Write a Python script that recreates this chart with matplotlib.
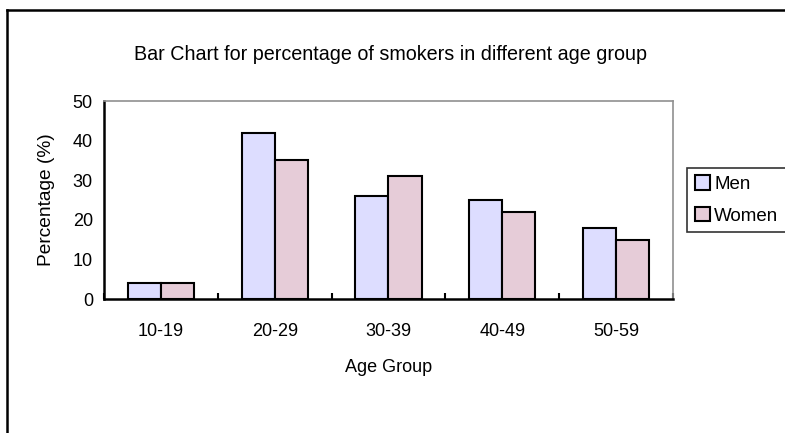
import matplotlib
matplotlib.use("Agg")
import matplotlib.pyplot as plt
import numpy as np
from matplotlib.lines import Line2D

plt.rcParams['font.family'] = ['Liberation Sans', 'DejaVu Sans']

categories = ["10-19", "20-29", "30-39", "40-49", "50-59"]
men = [4, 42, 26, 25, 18]
women = [4, 35, 31, 22, 15]

W, H = 785, 433
fig = plt.figure(figsize=(W/100, H/100), dpi=100)
ax = fig.add_axes([104/W, 1-299/H, (673-104)/W, (299-101)/H])

x = np.arange(len(categories))
bw = 0.29
ax.bar(x - bw/2, men, bw, color='#DDDDFF', edgecolor='black', linewidth=1.5, label='Men')
ax.bar(x + bw/2, women, bw, color='#E6CCD8', edgecolor='black', linewidth=1.5, label='Women')

fs = 13
ax.set_xlim(-0.5, len(categories) - 0.5)
ax.set_ylim(0, 50)
ax.set_yticks([0, 10, 20, 30, 40, 50])
ax.set_xticks(x)
ax.set_xticklabels(categories)
ax.tick_params(axis='x', length=0, labelsize=fs, pad=17)
ax.tick_params(axis='y', length=0, labelsize=fs, pad=8)
ax.set_xticks(np.arange(len(categories) + 1) - 0.5, minor=True)
ax.tick_params(axis='x', which='minor', direction='in', length=4, width=1.5)

for s in ['left', 'bottom']:
    ax.spines[s].set_linewidth(1.8)
    ax.spines[s].set_color('black')
for s in ['top', 'right']:
    ax.spines[s].set_linewidth(1.2)
    ax.spines[s].set_color('#909090')

ax.set_xlabel("Age Group", fontsize=fs, labelpad=14)
ax.set_ylabel("Percentage (%)", fontsize=13.8, labelpad=13)

fig.text(390/W, 1-54/H, "Bar Chart for percentage of smokers in different age group",
         ha='center', va='center', fontsize=14.2)

leg = ax.legend(loc='center left', bbox_to_anchor=(687/W, 1-200/H), bbox_transform=fig.transFigure,
                frameon=True, fancybox=False, fontsize=13.5, handlelength=0.8, handleheight=0.8,
                handletextpad=0.25, borderpad=0.4, labelspacing=0.75, borderaxespad=0)
leg.get_frame().set_edgecolor('black')
leg.get_frame().set_linewidth(1.2)

# outer chart border
fig.add_artist(Line2D([6.5/W, 6.5/W], [0, 1-9.5/H], transform=fig.transFigure, color='black', linewidth=1.8))
fig.add_artist(Line2D([6.5/W, 1], [1-9.5/H, 1-9.5/H], transform=fig.transFigure, color='black', linewidth=1.8))

fig.savefig("out.png", dpi=100)
